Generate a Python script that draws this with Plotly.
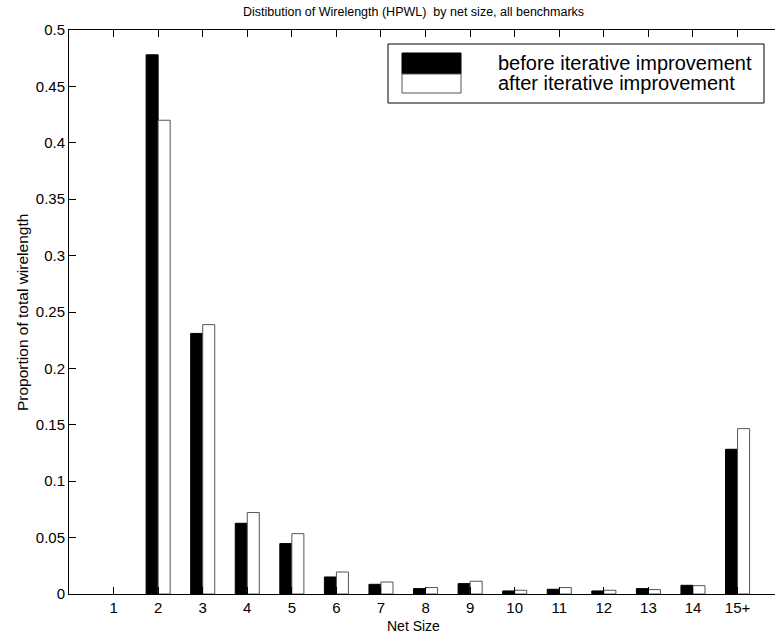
import plotly.graph_objects as go

# Net size categories and wirelength proportions
net_sizes = ["1", "2", "3", "4", "5", "6", "7", "8", "9", "10", "11", "12", "13", "14", "15+"]
before_vals = [0.0, 0.478, 0.231, 0.0627, 0.0447, 0.0151, 0.0086, 0.0048, 0.0092,
               0.0027, 0.0042, 0.0027, 0.0048, 0.0077, 0.1283]
after_vals = [0.0, 0.420, 0.2388, 0.0722, 0.0535, 0.0195, 0.0106, 0.0057, 0.0113,
              0.0033, 0.0057, 0.0033, 0.0039, 0.0074, 0.1466]
series_names = ["before iterative improvement", "after iterative improvement"]
y_ticks = [0, 0.05, 0.1, 0.15, 0.2, 0.25, 0.3, 0.35, 0.4, 0.45, 0.5]

title_text = "Distibution of Wirelength (HPWL)  by net size, all benchmarks"
x_title = "Net Size"
y_title = "Proportion of total wirelength"

W, H = 775, 635
L, T, B = 69, 30, 41          # plot margins in pixels (right margin 0)
PW, PH = W - L, H - T - B
FONT = "Liberation Sans, Arial, Helvetica, sans-serif"


def px(x):
    return (x - L) / PW


def py(y):
    return (H - B - y) / PH


def edge_widths(vals):
    # empty bars get no outline
    return [0 if v == 0 else 1 for v in vals]


fig = go.Figure()
fig.add_trace(go.Bar(x=net_sizes, y=before_vals, name=series_names[0],
                     marker=dict(color="black", line=dict(color="black", width=edge_widths(before_vals))),
                     showlegend=False))
fig.add_trace(go.Bar(x=net_sizes, y=after_vals, name=series_names[1],
                     marker=dict(color="white", line=dict(color="#555555", width=edge_widths(after_vals))),
                     showlegend=False))

# Boxed key in the upper right
shapes = [
    dict(type="rect", xref="paper", yref="paper", x0=px(388), x1=px(764), y0=py(103), y1=py(44),
         line=dict(color="black", width=1), fillcolor="white", layer="above"),
    dict(type="rect", xref="paper", yref="paper", x0=px(402), x1=px(461), y0=py(74), y1=py(53),
         line=dict(color="black", width=1), fillcolor="black", layer="above"),
    dict(type="rect", xref="paper", yref="paper", x0=px(402), x1=px(461), y0=py(93), y1=py(74),
         line=dict(color="#555555", width=1), fillcolor="white", layer="above"),
]

annotations = [
    dict(text=title_text, xref="paper", yref="paper", x=px(413), y=py(12),
         xanchor="center", yanchor="middle", showarrow=False, font=dict(size=12.5, family=FONT, color="black")),
    dict(text=x_title, xref="paper", yref="paper", x=px(413), y=py(626),
         xanchor="center", yanchor="middle", showarrow=False, font=dict(size=14, family=FONT, color="black")),
    dict(text=y_title, xref="paper", yref="paper", x=px(22), y=py(313), textangle=-90,
         xanchor="center", yanchor="middle", showarrow=False, font=dict(size=15.5, family=FONT, color="black")),
    dict(text=series_names[0], xref="paper", yref="paper", x=px(496), y=py(63),
         xanchor="left", yanchor="middle", showarrow=False, font=dict(size=20, family=FONT, color="black")),
    dict(text=series_names[1], xref="paper", yref="paper", x=px(496), y=py(83),
         xanchor="left", yanchor="middle", showarrow=False, font=dict(size=20, family=FONT, color="black")),
]

cat_px = 44.57  # pixels per category
fig.update_layout(
    width=W, height=H,
    margin=dict(l=L, r=0, t=T, b=B, pad=0),
    paper_bgcolor="white", plot_bgcolor="white",
    barmode="group", bargap=0.46, bargroupgap=0.0,
    font=dict(family=FONT, size=15, color="black"),
    shapes=shapes, annotations=annotations,
    xaxis=dict(type="category", range=[-1, -1 + PW / cat_px],
               showline=True, linecolor="black", linewidth=1, mirror="ticks",
               ticks="inside", ticklen=7, tickcolor="black", tickwidth=1,
               showgrid=False, zeroline=False, tickfont=dict(size=15)),
    yaxis=dict(range=[0, 0.5], tickvals=y_ticks, ticktext=[f"{v:g}" for v in y_ticks],
               showline=True, linecolor="black", linewidth=1, mirror=False,
               ticks="inside", ticklen=7, tickcolor="black", tickwidth=1,
               showgrid=False, zeroline=False, tickfont=dict(size=15)),
)

fig.write_html("out.html")
